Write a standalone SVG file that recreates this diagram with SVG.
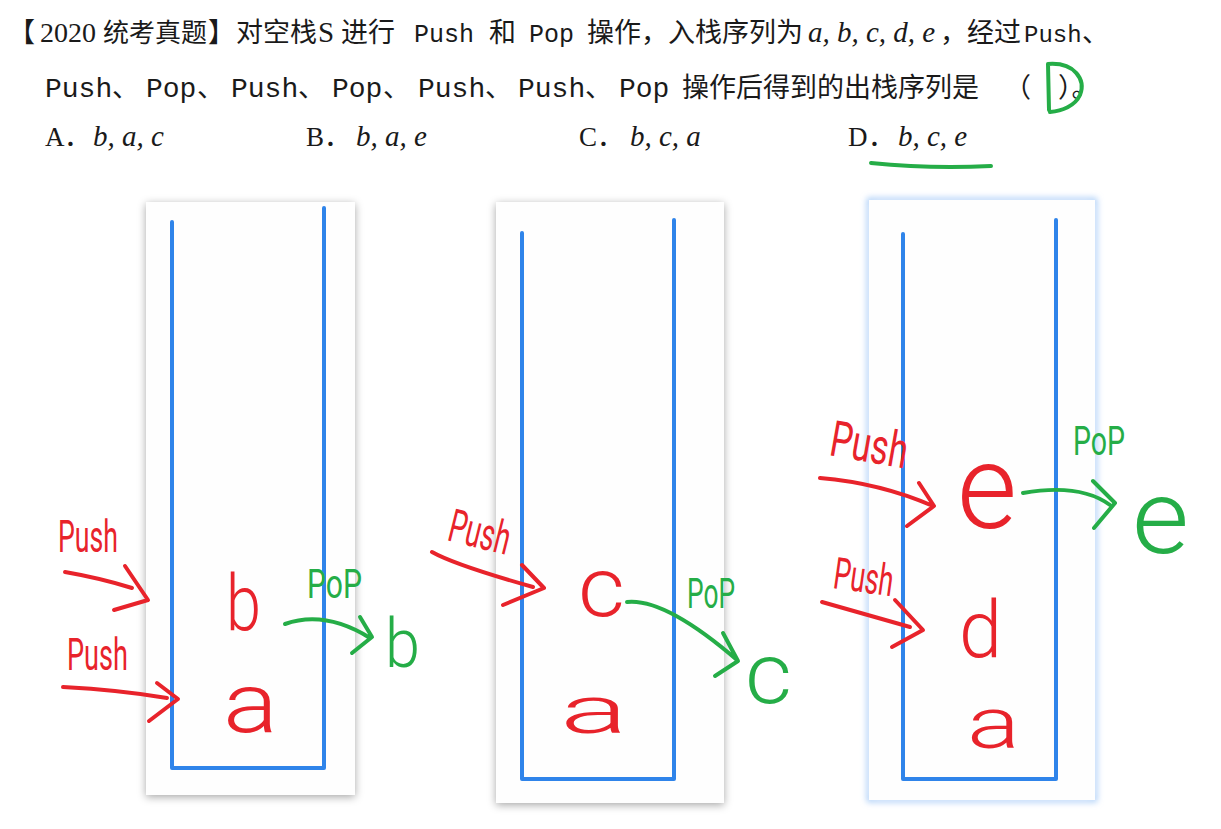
<svg xmlns="http://www.w3.org/2000/svg" width="1221" height="829" viewBox="0 0 1221 829">
<defs>
<filter id="shadow" x="-10%" y="-10%" width="120%" height="120%">
<feDropShadow dx="0" dy="2" stdDeviation="4" flood-color="#000" flood-opacity="0.35"/>
</filter>
<filter id="glow" x="-10%" y="-10%" width="120%" height="120%">
<feGaussianBlur stdDeviation="3"/>
</filter>
</defs>
<style>
.cjk{font-family:"Noto Sans CJK SC",sans-serif;}
.ser{font-family:"Liberation Serif",serif;}
.it{font-family:"Liberation Serif",serif;font-style:italic;}
.mono{font-family:"Liberation Mono",monospace;}
.t{fill:#1a1a1a;}
.panel{fill:#fefefe;}
.stack{fill:none;stroke:#2f84ea;stroke-width:4;stroke-linecap:round;stroke-linejoin:round;}
.hw{font-family:Roboto,"Liberation Sans",sans-serif;font-weight:300;}
.lbl{font-family:Roboto,"Liberation Sans",sans-serif;font-weight:400;}
.red{fill:#e8232b;}
.green{fill:#25ad47;}
.rs{fill:none;stroke:#e8232b;stroke-width:4;stroke-linecap:round;stroke-linejoin:round;}
.gs{fill:none;stroke:#25ad47;stroke-width:4;stroke-linecap:round;stroke-linejoin:round;}
</style>
<rect width="1221" height="829" fill="#ffffff"/>

<g id="question" class="t">
<text y="42" font-size="27">
<tspan class="cjk" x="8">【</tspan><tspan class="ser" x="40" font-size="28">2020</tspan><tspan class="cjk" x="103" font-size="26">统考真题</tspan><tspan class="cjk" x="208">】</tspan><tspan class="cjk" x="236">对空栈</tspan><tspan class="ser" x="318" font-size="29">S</tspan><tspan class="cjk" x="341">进行</tspan><tspan class="mono" x="414" font-size="25">Push</tspan><tspan class="cjk" x="489">和</tspan><tspan class="mono" x="529" font-size="25">Pop</tspan><tspan class="cjk" x="587">操作，入栈序列为</tspan><tspan class="it" x="808" font-size="29">a, b, c, d, e</tspan><tspan class="cjk" x="940">，经过</tspan><tspan class="mono" x="1024" font-size="24">Push</tspan><tspan class="cjk" x="1082">、</tspan>
</text>
<text y="97" font-size="27">
<tspan class="mono" x="45" font-size="28">Push</tspan><tspan class="cjk" x="112">、</tspan><tspan class="mono" x="146" font-size="28">Pop</tspan><tspan class="cjk" x="197">、</tspan><tspan class="mono" x="231" font-size="28">Push</tspan><tspan class="cjk" x="298">、</tspan><tspan class="mono" x="332" font-size="28">Pop</tspan><tspan class="cjk" x="383">、</tspan><tspan class="mono" x="418" font-size="28">Push</tspan><tspan class="cjk" x="485">、</tspan><tspan class="mono" x="518" font-size="28">Push</tspan><tspan class="cjk" x="585">、</tspan><tspan class="mono" x="619" font-size="28">Pop</tspan><tspan class="cjk" x="682">操作后得到的出栈序列是</tspan><tspan class="cjk" x="1004">（</tspan><tspan class="cjk" x="1058">）。</tspan>
</text>
<text y="146" font-size="27">
<tspan class="ser" x="45">A</tspan><tspan class="cjk" x="64">．</tspan><tspan class="it" x="93" font-size="29">b, a, c</tspan>
<tspan class="ser" x="306">B</tspan><tspan class="cjk" x="324">．</tspan><tspan class="it" x="356" font-size="29">b, a, e</tspan>
<tspan class="ser" x="579">C</tspan><tspan class="cjk" x="597">．</tspan><tspan class="it" x="630" font-size="29">b, c, a</tspan>
<tspan class="ser" x="848">D</tspan><tspan class="cjk" x="868">．</tspan><tspan class="it" x="898" font-size="29">b, c, e</tspan>
</text>
</g>

<g id="answer-mark">
<path class="gs" d="M1048,64 L1049,110 M1048,64 C1075,62 1086,80 1080,95 C1075,106 1062,111 1050,112"/>
<path class="gs" d="M871,163 Q930,169 991,166"/>
</g>

<g id="stack1">
<rect class="panel" x="146" y="202" width="209" height="593" filter="url(#shadow)"/>
<path class="stack" d="M172,222 L172,768 L324,768 L324,208"/>
</g>
<g id="stack2">
<rect class="panel" x="496" y="202" width="228" height="601" filter="url(#shadow)"/>
<path class="stack" d="M522,233 L522,779 L674,779 L674,220"/>
</g>
<g id="stack3">
<rect x="869" y="200" width="226" height="600" fill="none" stroke="#9ec6f7" stroke-width="4" filter="url(#glow)"/>
<rect class="panel" x="869" y="200" width="226" height="600"/>
<path class="stack" d="M903,234 L903,779 L1056,779 L1056,220"/>
</g>

<g id="labels1">
<text class="lbl red" x="58" y="552" font-size="44" textLength="60" lengthAdjust="spacingAndGlyphs">Push</text>
<text class="lbl red" x="67" y="670" font-size="44" textLength="61" lengthAdjust="spacingAndGlyphs">Push</text>
<text class="lbl green" x="307" y="598" font-size="40" textLength="55" lengthAdjust="spacingAndGlyphs">PoP</text>
</g>
<g id="labels2">
<text class="lbl red" x="446" y="540" font-size="46" textLength="62" lengthAdjust="spacingAndGlyphs" transform="rotate(14 446 540)">Push</text>
<text class="lbl green" x="687" y="608" font-size="42" textLength="48" lengthAdjust="spacingAndGlyphs">PoP</text>
</g>
<g id="labels3">
<text class="lbl red" x="828" y="455" font-size="50" textLength="78" lengthAdjust="spacingAndGlyphs" transform="rotate(10 828 455)">Push</text>
<text class="lbl red" x="832" y="588" font-size="44" textLength="60" lengthAdjust="spacingAndGlyphs" transform="rotate(8 832 588)">Push</text>
<text class="lbl green" x="1073" y="455" font-size="40" textLength="52" lengthAdjust="spacingAndGlyphs">PoP</text>
</g>

<g id="item-b"><text class="hw red" x="226" y="630" font-size="78" textLength="35" lengthAdjust="spacingAndGlyphs">b</text></g>
<g id="item-a1"><text class="hw red" x="223" y="732" font-size="84" textLength="55" lengthAdjust="spacingAndGlyphs">a</text></g>
<g id="item-b-out"><text class="hw green" x="385" y="667" font-size="68" textLength="35" lengthAdjust="spacingAndGlyphs">b</text></g>
<g id="item-c"><text class="hw red" x="578" y="616" font-size="84" textLength="47" lengthAdjust="spacingAndGlyphs">c</text></g>
<g id="item-a2"><text class="hw red" x="560" y="733" font-size="66" textLength="68" lengthAdjust="spacingAndGlyphs">a</text></g>
<g id="item-c-out"><text class="hw green" x="745" y="703" font-size="86" textLength="47" lengthAdjust="spacingAndGlyphs">c</text></g>
<g id="item-e"><text class="hw red" x="957" y="528" font-size="118" textLength="60" lengthAdjust="spacingAndGlyphs">e</text></g>
<g id="item-e-out"><text class="hw green" x="1132" y="553" font-size="104" textLength="57" lengthAdjust="spacingAndGlyphs">e</text></g>
<g id="item-d"><text class="hw red" x="959" y="657" font-size="80" textLength="43" lengthAdjust="spacingAndGlyphs">d</text></g>
<g id="item-a3"><text class="hw red" x="967" y="748" font-size="72" textLength="53" lengthAdjust="spacingAndGlyphs">a</text></g>

<g id="connectors">
<path class="rs" d="M65,572 Q100,578 132,588 M125,566 L148,600 L114,610"/>
<path class="rs" d="M63,687 Q120,690 167,698 M157,683 L178,699 L149,721"/>
<path class="gs" d="M285,624 Q325,610 370,638 M360,617 L372,637 L352,653"/>
<path class="rs" d="M432,552 Q455,565 533,587 M522,565 L544,588 L503,605"/>
<path class="gs" d="M627,602 Q665,598 737,660 M723,633 L738,661 L715,676"/>
<path class="rs" d="M820,478 Q880,483 933,506 M919,483 L934,506 L907,526"/>
<path class="gs" d="M1023,493 Q1080,483 1110,505 M1093,481 L1115,503 L1094,528"/>
<path class="rs" d="M822,602 L910,627 M895,600 L923,630 L892,647"/>
</g>
</svg>
